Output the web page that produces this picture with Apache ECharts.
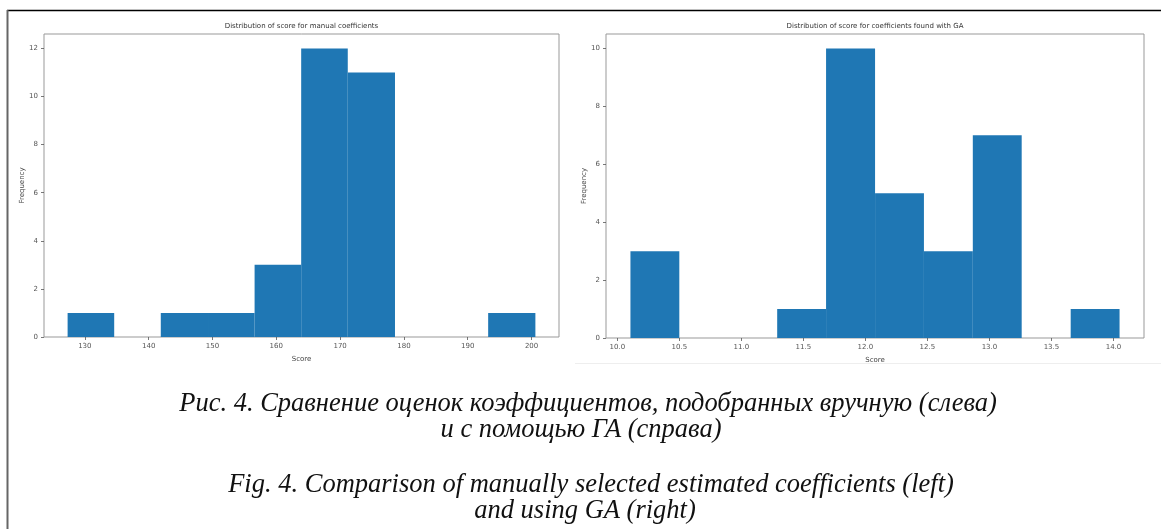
<!DOCTYPE html>
<html>
<head>
<meta charset="utf-8">
<script src="https://cdn.jsdelivr.net/npm/echarts@6/dist/echarts.min.js"></script>
<style>
html,body{margin:0;padding:0;background:#fff;}
#chart{width:1161px;height:529px;}
</style>
</head>
<body>
<div id="chart"></div>
<script>
// ---- Data ----
const leftTitle = "Distribution of score for manual coefficients";
const rightTitle = "Distribution of score for coefficients found with GA";
const xAxisName = "Score";
const yAxisName = "Frequency";

const leftEdges = [127.3, 134.6, 141.9, 149.3, 156.6, 163.9, 171.2, 178.6, 185.9, 193.2, 200.6];
const leftCounts = [1, 0, 1, 1, 3, 12, 11, 0, 0, 1];
const leftXTicks = [130, 140, 150, 160, 170, 180, 190, 200];
const leftYTicks = [0, 2, 4, 6, 8, 10, 12];

const rightEdges = [10.106, 10.500, 10.895, 11.289, 11.683, 12.078, 12.472, 12.866, 13.260, 13.655, 14.049];
const rightCounts = [3, 0, 0, 1, 10, 5, 3, 7, 0, 1];
const rightXTicks = [10.0, 10.5, 11.0, 11.5, 12.0, 12.5, 13.0, 13.5, 14.0];
const rightYTicks = [0, 2, 4, 6, 8, 10];

const captionRu1 = "Рис. 4. Сравнение оценок коэффициентов, подобранных вручную (слева)";
const captionRu2 = "и с помощью ГА (справа)";
const captionEn1 = "Fig. 4. Comparison of manually selected estimated coefficients (left)";
const captionEn2 = "and using GA (right)";

// ---- Build ----
function binsToData(edges, counts) {
  return counts.map((c, i) => [edges[i], edges[i + 1], c]);
}
function renderBar(params, api) {
  const x0 = api.value(0), x1 = api.value(1), c = api.value(2);
  const p0 = api.coord([x0, c]);
  const p1 = api.coord([x1, 0]);
  return {
    type: 'rect',
    shape: { x: p0[0], y: p0[1], width: p1[0] - p0[0], height: p1[1] - p0[1] },
    style: { fill: '#1f77b4' }
  };
}
const tickColor = '#555';
const labelStyle = { fontSize: 7, color: '#555', fontFamily: 'DejaVu Sans' };
function xAxisCfg(grid, min, max, ticks, decimals) {
  return {
    gridIndex: grid, type: 'value', min: min, max: max,
    axisLine: { show: false }, splitLine: { show: false },
    axisTick: { show: true, length: 3, customValues: ticks, lineStyle: { color: tickColor, width: 0.8 } },
    axisLabel: Object.assign({ customValues: ticks, margin: 6,
      formatter: v => decimals ? Number(v).toFixed(decimals) : String(v) }, labelStyle),
    name: xAxisName, nameLocation: 'middle', nameGap: 19,
    nameTextStyle: { fontSize: 7, color: '#444', fontFamily: 'DejaVu Sans' }
  };
}
function yAxisCfg(grid, max, ticks, gap) {
  return {
    gridIndex: grid, type: 'value', min: 0, max: max,
    axisLine: { show: false }, splitLine: { show: false },
    axisTick: { show: true, length: 3, customValues: ticks, lineStyle: { color: tickColor, width: 0.8 } },
    axisLabel: Object.assign({ customValues: ticks, margin: 6 }, labelStyle),
    name: yAxisName, nameLocation: 'middle', nameGap: gap, nameRotate: 90,
    nameTextStyle: { fontSize: 7, color: '#444', fontFamily: 'DejaVu Sans' }
  };
}

const chart = echarts.init(document.getElementById('chart'), null, { renderer: 'canvas' });
const captionFont = { fontFamily: 'Liberation Serif', fontStyle: 'italic', fontSize: 26.5, fill: '#111', textAlign: 'center', textVerticalAlign: 'middle' };

chart.setOption({
  animation: false,
  backgroundColor: '#fff',
  title: [
    { text: leftTitle, left: 301.5, top: 23, textAlign: 'center', padding: 0,
      textStyle: { fontSize: 7, fontWeight: 'normal', color: '#333', fontFamily: 'DejaVu Sans' } },
    { text: rightTitle, left: 875, top: 23, textAlign: 'center', padding: 0,
      textStyle: { fontSize: 7, fontWeight: 'normal', color: '#333', fontFamily: 'DejaVu Sans' } }
  ],
  grid: [
    { left: 44, top: 34, width: 515, height: 303, show: true, borderColor: '#999', borderWidth: 1, backgroundColor: 'transparent' },
    { left: 606, top: 34, width: 538, height: 304, show: true, borderColor: '#999', borderWidth: 1, backgroundColor: 'transparent' }
  ],
  xAxis: [
    xAxisCfg(0, 123.6, 204.3, leftXTicks, 0),
    xAxisCfg(1, 9.909, 14.246, rightXTicks, 1)
  ],
  yAxis: [
    yAxisCfg(0, 12.6, leftYTicks, 15),
    yAxisCfg(1, 10.5, rightYTicks, 15)
  ],
  series: [
    { type: 'custom', xAxisIndex: 0, yAxisIndex: 0, renderItem: renderBar,
      encode: { x: [0, 1], y: 2 }, data: binsToData(leftEdges, leftCounts) },
    { type: 'custom', xAxisIndex: 1, yAxisIndex: 1, renderItem: renderBar,
      encode: { x: [0, 1], y: 2 }, data: binsToData(rightEdges, rightCounts) }
  ],
  graphic: [
    { type: 'line', shape: { x1: 7, y1: 10.5, x2: 1161, y2: 10.5 }, style: { stroke: '#000', lineWidth: 1.5 } },
    { type: 'line', shape: { x1: 7.5, y1: 10, x2: 7.5, y2: 529 }, style: { stroke: '#666', lineWidth: 2 } },
    { type: 'line', shape: { x1: 575, y1: 363.5, x2: 1161, y2: 363.5 }, style: { stroke: '#eee', lineWidth: 1 } },
    { type: 'text', x: 588, y: 404, style: Object.assign({ text: captionRu1 }, captionFont) },
    { type: 'text', x: 581, y: 430, style: Object.assign({ text: captionRu2 }, captionFont) },
    { type: 'text', x: 591, y: 485, style: Object.assign({ text: captionEn1 }, captionFont) },
    { type: 'text', x: 585, y: 511, style: Object.assign({ text: captionEn2 }, captionFont) }
  ]
});
</script>
</body>
</html>
